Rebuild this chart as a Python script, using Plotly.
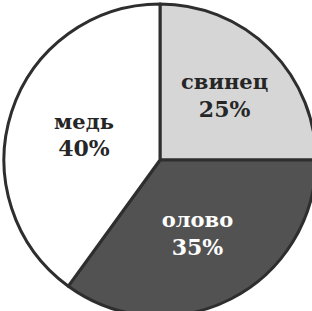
import plotly.graph_objects as go

labels = ["свинец", "олово", "медь"]
values = [25, 35, 40]
colors = ["#d6d6d6", "#525252", "#ffffff"]
text_colors = ["#262626", "#ffffff", "#262626"]

W, H = 316, 316

fig = go.Figure(go.Pie(
    labels=labels,
    values=values,
    sort=False,
    direction="clockwise",
    rotation=0,
    marker=dict(colors=colors, line=dict(color="#2e2e2e", width=3)),
    texttemplate="%{label}<br><span style='font-size:22px'>%{percent:.0%}</span>",
    textposition="inside",
    insidetextorientation="horizontal",
    insidetextfont=dict(family="DejaVu Serif", size=21, weight="bold", color=text_colors),
    hoverinfo="none",
    showlegend=False,
    domain=dict(x=[4 / W, 1], y=[0, 1 - 4 / H]),
))
fig.update_layout(
    width=W, height=H,
    margin=dict(l=0, r=0, t=0, b=0),
    paper_bgcolor="white",
    plot_bgcolor="white",
    uniformtext=dict(minsize=21, mode="show"),
)
fig.write_html(
    "out.html",
    config={"displayModeBar": False, "staticPlot": True},
    post_script="document.body.style.margin='0';document.body.style.overflow='hidden';"
                "document.documentElement.style.overflow='hidden';",
)
